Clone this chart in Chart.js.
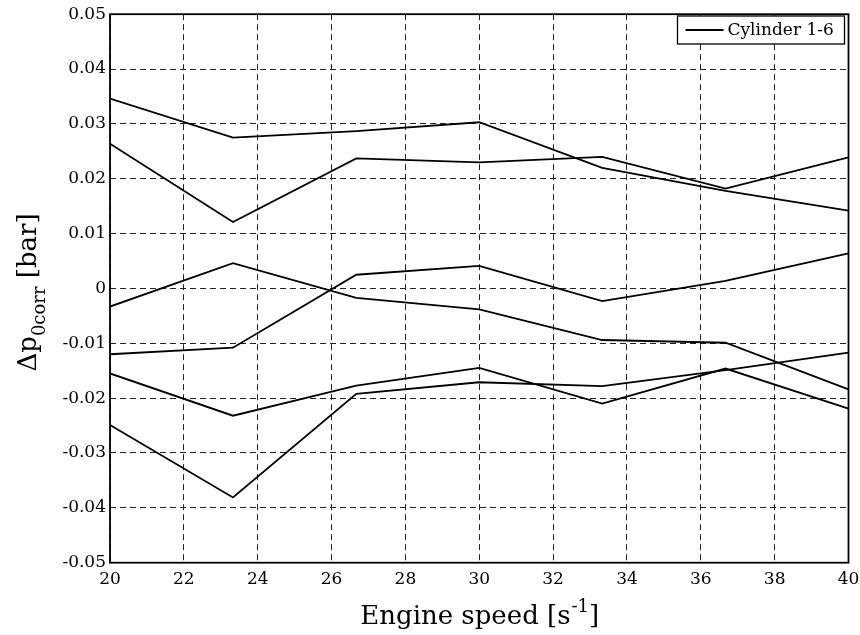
<!DOCTYPE html>
<html>
<head>
<meta charset="utf-8">
<script src="https://cdn.jsdelivr.net/npm/chart.js@4/dist/chart.umd.min.js"></script>
<style>
html,body{margin:0;padding:0;background:#fff;}
#wrap{width:860px;height:635px;position:relative;}
</style>
</head>
<body>
<div id="wrap"><canvas id="c" width="860" height="635"></canvas></div>
<script>
// Engine speed [1/s] at which each cylinder value was measured
const speeds = [20, 23.33, 26.67, 30, 33.33, 36.67, 40];
// Six traces of delta p_0corr [bar]
const traceA = [0.0346, 0.0275, 0.0287, 0.0303, 0.0220, 0.0178, 0.0142];
const traceB = [0.0264, 0.0121, 0.0237, 0.0230, 0.0240, 0.0182, 0.0239];
const traceC = [-0.0033, 0.0046, -0.0017, -0.0038, -0.0094, -0.0099, -0.0184];
const traceD = [-0.0120, -0.0108, 0.0025, 0.0041, -0.0023, 0.0014, 0.0064];
const traceE = [-0.0155, -0.0232, -0.0177, -0.0145, -0.0210, -0.0146, -0.0219];
const traceF = [-0.0249, -0.0381, -0.0192, -0.0171, -0.0178, -0.0149, -0.0117];
const legendLabel = 'Cylinder 1-6';
const xTitle = 'Engine speed [s';
const xTitleSup = '-1';
const yTitleMain = '\u0394p';
const yTitleSub = '0corr';
const yTitleTail = ' [bar]';

const traces = [traceA, traceB, traceC, traceD, traceE, traceF];
const FONT = '"DejaVu Serif", serif';

const datasets = traces.map((t) => ({
  label: legendLabel,
  data: speeds.map((s, i) => ({x: s, y: t[i]})),
  borderColor: '#000',
  borderWidth: 1.8,
  pointRadius: 0,
  fill: false,
  tension: 0
}));

const decor = {
  id: 'decor',
  afterDraw(chart) {
    const ctx = chart.ctx;
    const a = chart.chartArea;
    ctx.save();
    // frame
    ctx.strokeStyle = '#000';
    ctx.lineWidth = 1.8;
    ctx.setLineDash([]);
    ctx.strokeRect(a.left, a.top, a.right - a.left, a.bottom - a.top);

    // legend box
    const lw = 167, lh = 28;
    const lx = a.right - 4 - lw, ly = 16;
    ctx.fillStyle = '#fff';
    ctx.fillRect(lx, ly, lw, lh);
    ctx.lineWidth = 1.3;
    ctx.strokeRect(lx, ly, lw, lh);
    ctx.lineWidth = 1.8;
    ctx.beginPath();
    ctx.moveTo(lx + 8, ly + lh / 2);
    ctx.lineTo(lx + 46, ly + lh / 2);
    ctx.stroke();
    ctx.fillStyle = '#000';
    ctx.font = '17px ' + FONT;
    ctx.textBaseline = 'middle';
    ctx.textAlign = 'left';
    ctx.fillText(legendLabel, lx + 50, ly + lh / 2 + 1);

    // x title
    const big = '26px ' + FONT, small = '18px ' + FONT;
    ctx.font = big;
    const w1 = ctx.measureText(xTitle).width;
    const w3 = ctx.measureText(']').width;
    ctx.font = small;
    const w2 = ctx.measureText(xTitleSup).width;
    const total = w1 + w2 + w3;
    const cx = (a.left + a.right) / 2;
    let x0 = cx - total / 2;
    const by = 624;
    ctx.textBaseline = 'alphabetic';
    ctx.font = big;
    ctx.fillText(xTitle, x0, by);
    ctx.font = small;
    ctx.fillText(xTitleSup, x0 + w1 + 1, by - 12);
    ctx.font = big;
    ctx.fillText(']', x0 + w1 + w2 + 1, by);

    // y title (rotated)
    ctx.font = big;
    const m1 = ctx.measureText(yTitleMain).width;
    const m3 = ctx.measureText(yTitleTail).width;
    ctx.font = small;
    const m2 = ctx.measureText(yTitleSub).width;
    const ytot = m1 + m2 + m3;
    const cy = (a.top + a.bottom) / 2 + 4;
    ctx.translate(36, cy);
    ctx.rotate(-Math.PI / 2);
    let s0 = -ytot / 2;
    ctx.font = big;
    ctx.fillText(yTitleMain, s0, 0);
    ctx.font = small;
    ctx.fillText(yTitleSub, s0 + m1, 9);
    ctx.font = big;
    ctx.fillText(yTitleTail, s0 + m1 + m2, 0);
    ctx.restore();
  }
};

new Chart(document.getElementById('c'), {
  type: 'line',
  data: {datasets},
  options: {
    responsive: false,
    animation: false,
    layout: {padding: {left: 0, right: 0, top: 9.3, bottom: 0}},
    plugins: {legend: {display: false}, tooltip: {enabled: false}},
    scales: {
      x: {
        type: 'linear', min: 20, max: 40,
        afterFit(s) { s.height = 72.3; s.paddingRight = 11.5; },
        ticks: {stepSize: 2, color: '#000', font: {family: FONT, size: 17}, padding: 7, maxRotation: 0},
        grid: {color: '#222', lineWidth: 1, drawTicks: false},
        border: {display: false, dash: [6, 4]}
      },
      y: {
        min: -0.05, max: 0.05,
        afterFit(s) { s.width = 110; },
        ticks: {
          stepSize: 0.01, color: '#000', font: {family: FONT, size: 17}, padding: 4,
          callback: (v) => { const r = Math.round(v * 100) / 100; return r === 0 ? '0' : r.toFixed(2); }
        },
        grid: {color: '#222', lineWidth: 1, drawTicks: false},
        border: {display: false, dash: [6, 4]}
      }
    }
  },
  plugins: [decor]
});
</script>
</body>
</html>
